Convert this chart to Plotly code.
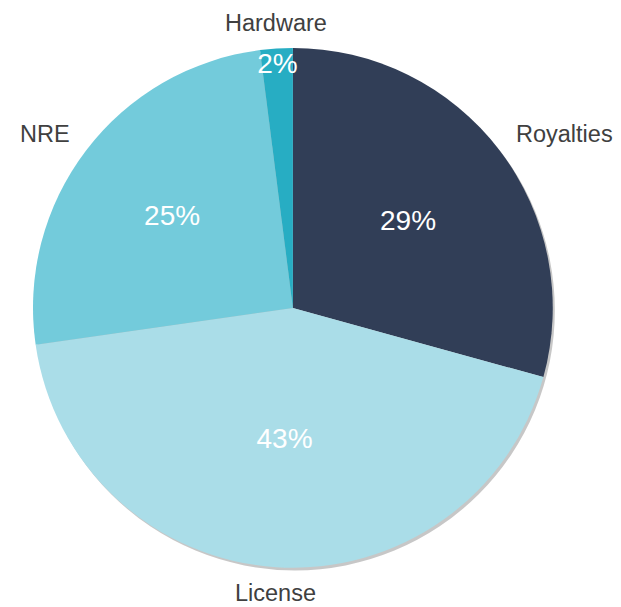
import math
import plotly.graph_objects as go

# Revenue mix by source (percent of total)
categories = ["Royalties", "License", "NRE", "Hardware"]
shares = [29, 43, 25, 2]
slice_colors = ["#313e57", "#aadde8", "#73cbdb", "#27adc3"]

FONT = "Liberation Sans, Arial, sans-serif"

# Plot-area geometry (pixels)
W, H = 621, 607
L, T, SIZE = 33, 48, 525
PIE_X = [0.0, 0.99]
PIE_Y = [0.01, 1.0]

fig = go.Figure()

# Soft drop shadow under the pie
fig.add_trace(go.Pie(
    values=[1],
    labels=["shadow"],
    marker=dict(colors=["rgba(0,0,0,0.22)"], line=dict(width=0)),
    textinfo="none",
    hoverinfo="skip",
    showlegend=False,
    domain=dict(x=[0.004, 0.994], y=[0.005, 0.995]),
))

# Filled slices with the percentage written inside each one
fig.add_trace(go.Pie(
    labels=categories,
    values=shares,
    sort=False,
    direction="clockwise",
    rotation=0,
    marker=dict(colors=slice_colors, line=dict(width=0)),
    texttemplate="%{value}%",
    textposition="inside",
    insidetextorientation="horizontal",
    textfont=dict(family=FONT, size=28, color="white"),
    hoverinfo="label+percent",
    showlegend=False,
    domain=dict(x=PIE_X, y=PIE_Y),
))

# Category names just outside the rim, at each slice's mid-angle
total = sum(shares)
radius_px = SIZE * (PIE_X[1] - PIE_X[0]) / 2
cx = (PIE_X[0] + PIE_X[1]) / 2
cy = (PIE_Y[0] + PIE_Y[1]) / 2
start = 0.0
for name, v in zip(categories, shares):
    mid = math.radians((start + v / 2) / total * 360)
    start += v
    s, c = math.sin(mid), math.cos(mid)
    xanchor = "left" if s > 0.3 else ("right" if s < -0.3 else "center")
    yanchor = "bottom" if c > 0.7 else ("top" if c < -0.7 else "middle")
    dist = radius_px + (11 if xanchor == "center" else 18)
    fig.add_annotation(
        x=cx, y=cy, xref="paper", yref="paper",
        xshift=dist * s, yshift=dist * c + (6 if xanchor != "center" else 0),
        text=name, showarrow=False,
        xanchor=xanchor, yanchor=yanchor,
        font=dict(family=FONT, size=23.5, color="#404040"),
    )

fig.update_layout(
    width=W,
    height=H,
    margin=dict(l=L, r=W - L - SIZE, t=T, b=H - T - SIZE),
    paper_bgcolor="white",
    plot_bgcolor="white",
    uniformtext=dict(minsize=28, mode="show"),
    showlegend=False,
)

fig.write_html("out.html")
